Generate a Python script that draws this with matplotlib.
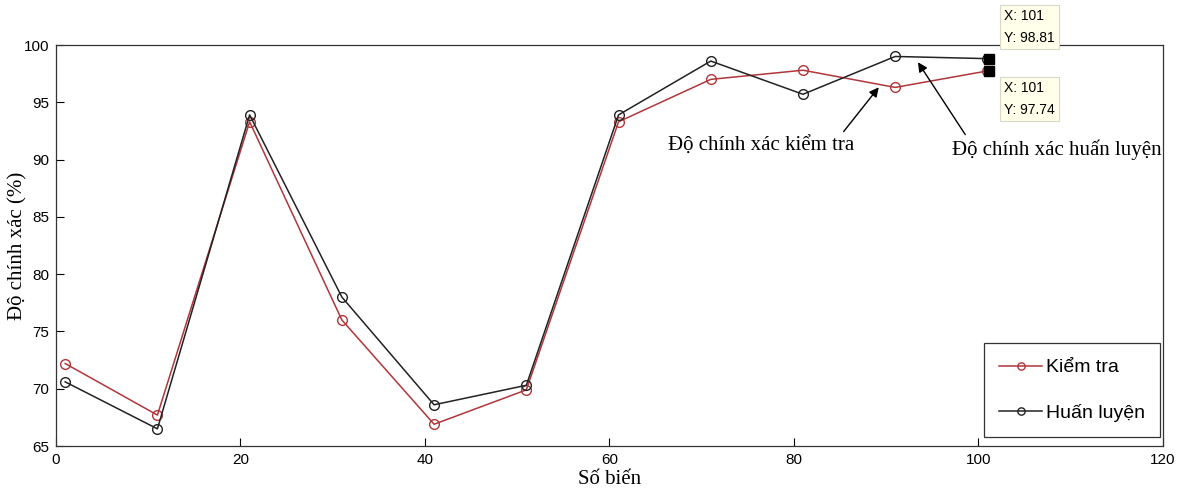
import matplotlib.pyplot as plt

# data
so_bien = [1, 11, 21, 31, 41, 51, 61, 71, 81, 91, 101]
kiem_tra = [72.2, 67.7, 93.3, 76.0, 66.9, 69.9, 93.3, 97.0, 97.8, 96.3, 97.74]
huan_luyen = [70.6, 66.5, 93.9, 78.0, 68.6, 70.3, 93.9, 98.6, 95.7, 99.0, 98.81]

red = '#B0363A'
blk = '#222222'
sans = 'Liberation Sans'
serif = 'Liberation Serif'

fig = plt.figure(figsize=(11.78, 4.93), dpi=100)
ax = fig.add_axes([0.0475, 0.0953, 0.9395, 0.8134])

ax.plot(so_bien, kiem_tra, '-o', color=red, lw=1.1, ms=7, mfc='none', mew=1.0, label='Kiểm tra')
ax.plot(so_bien, huan_luyen, '-o', color=blk, lw=1.1, ms=7, mfc='none', mew=1.0, label='Huấn luyện')

ax.set_xlim(0, 120)
ax.set_ylim(65, 100)
ax.set_xticks(range(0, 121, 20))
ax.set_yticks(range(65, 101, 5))
ax.tick_params(direction='in', length=6, width=0.8, labelsize=11, pad=5)
for lab in ax.get_xticklabels() + ax.get_yticklabels():
    lab.set_fontfamily(sans)
for sp in ax.spines.values():
    sp.set_linewidth(0.9)
    sp.set_color('#333333')

ax.set_xlabel('Số biến', fontfamily=serif, fontsize=15, labelpad=2)
ax.set_ylabel('Độ chính xác (%)', fontfamily=serif, fontsize=15)
ax.yaxis.set_label_coords(-0.026, 0.5)

# data tips at the last point
for yv in [huan_luyen[-1], kiem_tra[-1]]:
    ax.plot(so_bien[-1] + 0.2, yv, 's', color='black', ms=6.5, clip_on=False, zorder=5)
box = dict(boxstyle='square,pad=0.3', fc='#FFFFEA', ec='#D8D8C8', lw=0.8)
ax.annotate(f'X: {so_bien[-1]}\nY: {huan_luyen[-1]:.2f}', xy=(102.8, 101.55), fontsize=10,
            fontfamily=sans, va='center', ha='left', bbox=box, annotation_clip=False, linespacing=1.7)
ax.annotate(f'X: {so_bien[-1]}\nY: {kiem_tra[-1]:.2f}', xy=(102.8, 95.3), fontsize=10,
            fontfamily=sans, va='center', ha='left', bbox=box, annotation_clip=False, linespacing=1.7)

arrow = dict(arrowstyle='-|>', color='black', lw=1.0, mutation_scale=14)
ax.annotate('Độ chính xác kiểm tra', xy=(89.4, 96.5), xytext=(76.5, 90.35),
            fontfamily=serif, fontsize=15, ha='center', va='bottom', arrowprops=dict(arrow, relpos=(0.92, 1.0)))
ax.annotate('Độ chính xác huấn luyện', xy=(93.3, 98.7), xytext=(108.5, 89.95),
            fontfamily=serif, fontsize=15, ha='center', va='bottom', arrowprops=dict(arrow, relpos=(0.08, 1.0)))

leg = ax.legend(loc='lower right', bbox_to_anchor=(0.998, 0.022), prop={'family': sans, 'size': 14},
                fancybox=False, edgecolor='#333333', borderpad=0.8, labelspacing=1.4, handlelength=2.2,
                handletextpad=0.2, borderaxespad=0, framealpha=1, markerscale=0.75)
leg.get_frame().set_linewidth(0.9)

fig.savefig('out.png', dpi=100)
